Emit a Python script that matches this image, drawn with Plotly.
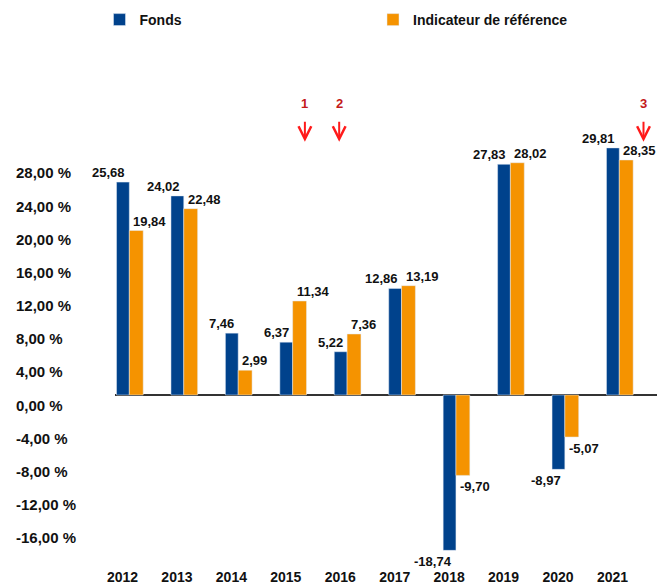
import plotly.graph_objects as go

years = [2012, 2013, 2014, 2015, 2016, 2017, 2018, 2019, 2020, 2021]
year_labels = [str(y) for y in years]
fonds = [25.68, 24.02, 7.46, 6.37, 5.22, 12.86, -18.74, 27.83, -8.97, 29.81]
indicateur = [19.84, 22.48, 2.99, 11.34, 7.36, 13.19, -9.70, 28.02, -5.07, 28.35]
fonds_labels = ["25,68", "24,02", "7,46", "6,37", "5,22", "12,86", "-18,74", "27,83", "-8,97", "29,81"]
ind_labels = ["19,84", "22,48", "2,99", "11,34", "7,36", "13,19", "-9,70", "28,02", "-5,07", "28,35"]
ytick_vals = [28, 24, 20, 16, 12, 8, 4, 0, -4, -8, -12, -16]
ytick_text = ["28,00 %", "24,00 %", "20,00 %", "16,00 %", "12,00 %", "8,00 %", "4,00 %",
              "0,00 %", "-4,00 %", "-8,00 %", "-12,00 %", "-16,00 %"]
marker_x = [2015.35, 2015.98, 2021.57]
marker_text = ["1", "2", "3"]

BLUE = "#00428c"
ORANGE = "#f59300"
FONT = "Liberation Sans, Arial, sans-serif"

b_off, b_w = -0.11, 0.235
o_off, o_w = 0.125, 0.255

W, H = 657, 586
L, R, T, B = 115, 0, 60, 30
PH = H - T - B

fig = go.Figure()
fig.add_trace(go.Bar(x=years, y=fonds, name="Fonds", marker_color=BLUE,
                     offset=b_off, width=b_w, legend="legend"))
fig.add_trace(go.Bar(x=years, y=indicateur, name="Indicateur de référence", marker_color=ORANGE,
                     offset=o_off, width=o_w, legend="legend2"))

ann = []
for yv, yt in zip(ytick_vals, ytick_text):
    ann.append(dict(xref="paper", yref="y", x=0, y=yv, xshift=-101, yshift=-10,
                    xanchor="left", yanchor="middle", showarrow=False, text=yt,
                    font=dict(family=FONT, size=15, color="#111", weight="bold")))
for yr, v, t in zip(years, fonds, fonds_labels):
    ann.append(dict(xref="x", yref="y", x=yr + b_off + b_w, y=v, xshift=-2,
                    yshift=0 if v >= 0 else -1.5,
                    xanchor="right", yanchor="bottom" if v >= 0 else "top",
                    showarrow=False, text=t,
                    font=dict(family=FONT, size=13, color="#111", weight="bold")))
for yr, v, t in zip(years, indicateur, ind_labels):
    ann.append(dict(xref="x", yref="y", x=yr + o_off, y=v, xshift=2,
                    yshift=0 if v >= 0 else -1.5,
                    xanchor="left", yanchor="bottom" if v >= 0 else "top",
                    showarrow=False, text=t,
                    font=dict(family=FONT, size=13, color="#111", weight="bold")))
tip_y = 1 - (141.7 - T) / PH
for mx, mt in zip(marker_x, marker_text):
    ann.append(dict(xref="x", yref="paper", x=mx, y=tip_y,
                    ax=0, ay=-38, showarrow=True, arrowhead=5, arrowsize=1.25,
                    arrowwidth=2, arrowcolor="#ff1a1a", startstandoff=9,
                    text=mt, font=dict(family=FONT, size=13, color="#c41a1a", weight="bold")))

leg_y = 1 + (T - 20) / PH
fig.update_layout(
    width=W, height=H,
    margin=dict(l=L, r=R, t=T, b=B),
    paper_bgcolor="white", plot_bgcolor="white",
    barmode="overlay",
    font=dict(family=FONT, size=14, color="#111"),
    xaxis=dict(range=[2011.862, 2021.818], tickvals=years, ticktext=year_labels,
               showgrid=False, zeroline=False, showline=False, ticks="",
               tickfont=dict(family=FONT, size=14, color="#111", weight="bold"),
               ticklabelstandoff=11),
    yaxis=dict(range=[-19.42, 40.41], showticklabels=False, showgrid=False,
               zeroline=True, zerolinecolor="#333333", zerolinewidth=1.5, showline=False),
    legend=dict(x=-15.5 / 542, y=leg_y, xanchor="left", yanchor="middle",
                orientation="h", bgcolor="rgba(0,0,0,0)",
                font=dict(family=FONT, size=14, color="#111", weight="bold")),
    legend2=dict(x=(373 - 115) / 542, y=leg_y, xanchor="left", yanchor="middle",
                 orientation="h", bgcolor="rgba(0,0,0,0)",
                 font=dict(family=FONT, size=14, color="#111", weight="bold")),
    annotations=ann,
    showlegend=True,
)

fig.write_html("out.html", config={"displayModeBar": False},
               post_script="document.body.style.margin='0';document.body.style.overflow='hidden';")
